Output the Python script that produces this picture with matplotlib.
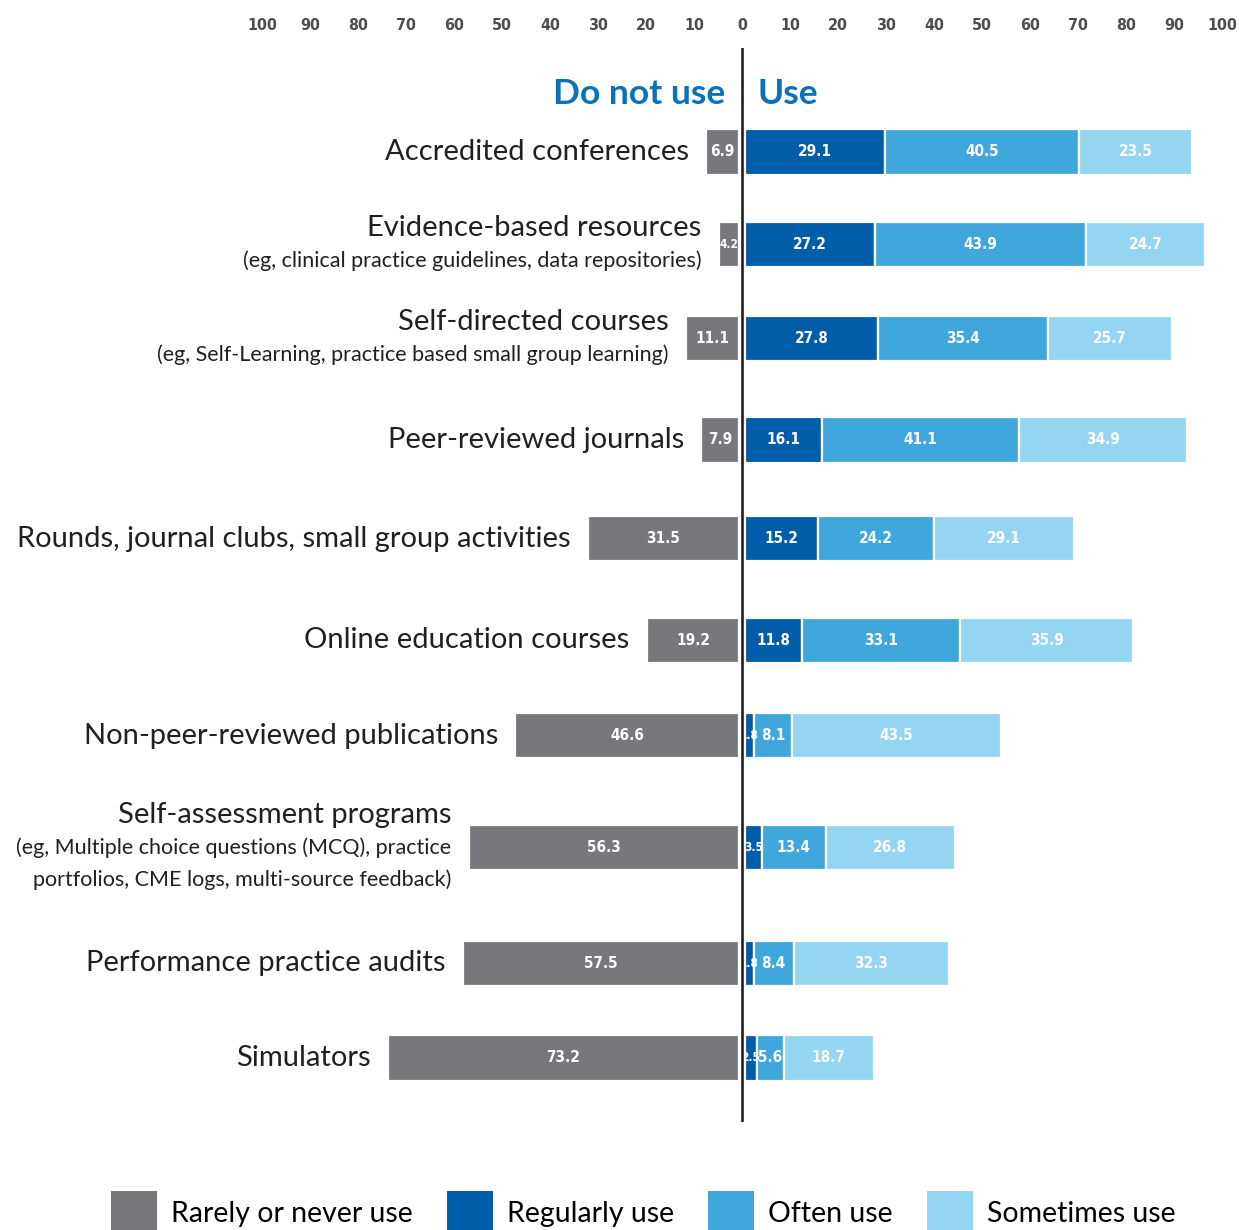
import matplotlib.pyplot as plt
from matplotlib.patches import Patch

# data, top row first
categories = [
    "Accredited conferences",
    "Evidence-based resources",
    "Self-directed courses",
    "Peer-reviewed journals",
    "Rounds, journal clubs, small group activities",
    "Online education courses",
    "Non-peer-reviewed publications",
    "Self-assessment programs",
    "Performance practice audits",
    "Simulators",
]
sublabels = [
    [],
    ["(eg, clinical practice guidelines, data repositories)"],
    ["(eg, Self-Learning, practice based small group learning)"],
    [],
    [],
    [],
    [],
    ["(eg, Multiple choice questions (MCQ), practice",
     "portfolios, CME logs, multi-source feedback)"],
    [],
    [],
]
rarely = [6.9, 4.2, 11.1, 7.9, 31.5, 19.2, 46.6, 56.3, 57.5, 73.2]
regularly = [29.1, 27.2, 27.8, 16.1, 15.2, 11.8, 1.8, 3.5, 1.8, 2.5]
often = [40.5, 43.9, 35.4, 41.1, 24.2, 33.1, 8.1, 13.4, 8.4, 5.6]
sometimes = [23.5, 24.7, 25.7, 34.9, 29.1, 35.9, 43.5, 26.8, 32.3, 18.7]
legend_labels = ["Rarely or never use", "Regularly use", "Often use", "Sometimes use"]

# layout: rows are not spaced quite evenly in the original
row_pos = [0, 0.92, 1.85, 2.86, 3.84, 4.85, 5.80, 6.91, 8.06, 9.0]

GRAY = "#77787B"
DARK = "#005DAA"
MID = "#3FA7DC"
LIGHT = "#94D5F2"
TITLE_BLUE = "#0A72BA"
FONT = ["Lato", "DejaVu Sans"]
NUM_FONT = ["DejaVu Sans"]

fig = plt.figure(figsize=(12.41, 12.30), dpi=100)
ax = fig.add_axes([0.2111, 0.0878, 0.7736, 0.8732])

bar_h = 0.45
gap = 0.6  # white space either side of the centre line
edge = dict(edgecolor="white", linewidth=1.6)


def put_values(lefts, widths, ys):
    for l, w, y in zip(lefts, widths, ys):
        fs = 8.5 if w < 4.5 else 11
        ax.text(l + w / 2, y, f"{w:.1f}", ha="center", va="center", color="white",
                fontsize=fs, fontweight="bold", fontstretch="condensed",
                family=NUM_FONT)


neg = [-v for v in rarely]
ax.barh(row_pos, neg, height=bar_h, left=-gap, color=GRAY, **edge)
put_values([-gap - v for v in rarely], rarely, row_pos)

left = [gap] * len(row_pos)
for vals, col in [(regularly, DARK), (often, MID), (sometimes, LIGHT)]:
    ax.barh(row_pos, vals, height=bar_h, left=left, color=col, **edge)
    put_values(left, vals, row_pos)
    left = [a + b for a, b in zip(left, vals)]

# category labels to the left of the grey bars
line_step = 0.32
for name, subs, y, r in zip(categories, sublabels, row_pos, rarely):
    n = 1 + len(subs)
    y0 = y - line_step * (n - 1) / 2
    x = -r - gap - 3.6
    ax.text(x, y0, name, ha="right", va="center", fontsize=21,
            color="#231F20", family=FONT)
    for k, s in enumerate(subs):
        ax.text(x, y0 + line_step * (k + 1), s, ha="right", va="center",
                fontsize=15.5, color="#231F20", family=FONT)

ax.text(-3.5, -0.58, "Do not use", ha="right", va="center", fontsize=25.5,
        fontweight="bold", color=TITLE_BLUE, family=FONT)
ax.text(3.2, -0.58, "Use", ha="left", va="center", fontsize=25.5,
        fontweight="bold", color=TITLE_BLUE, family=FONT)

ax.axvline(0, color="#231F20", linewidth=1.9, zorder=5)

ax.set_xlim(-100, 100)
ax.set_ylim(9.636, -1.033)
ax.xaxis.tick_top()
ticks = list(range(-100, 101, 10))
ax.set_xticks(ticks)
ax.set_xticklabels([str(abs(t)) for t in ticks], fontsize=11.5, fontweight="bold",
                   fontstretch="condensed", color="#4D4D4F", family=NUM_FONT)
ax.tick_params(axis="x", length=0, pad=11)
ax.set_yticks([])
for s in ax.spines.values():
    s.set_visible(False)

handles = [Patch(facecolor=c, edgecolor="none") for c in (GRAY, DARK, MID, LIGHT)]
fig.legend(handles, legend_labels, loc="lower center", bbox_to_anchor=(0.5185, -0.004),
           ncol=4, frameon=False, prop={"family": FONT, "size": 20.5},
           handlelength=1.61, handleheight=2.0, handletextpad=0.5,
           columnspacing=1.2, borderaxespad=0, borderpad=0)

fig.savefig("out.png", dpi=100)
